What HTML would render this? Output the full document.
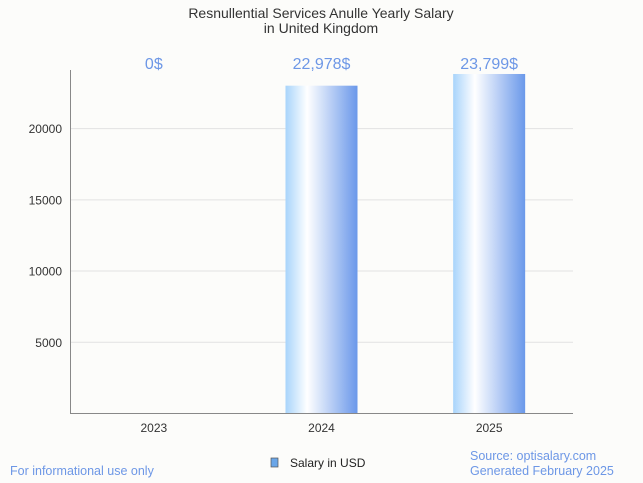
<!DOCTYPE html>
<html><head><meta charset="utf-8"><style>
body{margin:0;background:#fcfcfa;font-family:"Liberation Sans",sans-serif;}
svg{display:block}
</style></head><body>
<svg width="643" height="483">
<defs><linearGradient id="g" x1="0" x2="1" y1="0" y2="0">
<stop offset="0" stop-color="#a8d4fb"/><stop offset="0.3" stop-color="#ffffff"/><stop offset="1" stop-color="#6a98ea"/></linearGradient></defs>
<rect width="643" height="483" fill="#fcfcfa"/>
<text x="321" y="18" text-anchor="middle" font-size="14" fill="#333">Resnullential Services Anulle Yearly Salary</text>
<text x="321" y="33" text-anchor="middle" font-size="14" fill="#333">in United Kingdom</text>
<g id="grid"></g><g id="bars"></g>
<line x1="70.5" y1="70" x2="70.5" y2="413.5" stroke="#888"/>
<line x1="70" y1="413.5" x2="573" y2="413.5" stroke="#888"/>
<rect x="271" y="458" width="7" height="9" fill="#6aa6e8" stroke="#555" stroke-width="0.7"/>
<text x="290" y="467" font-size="12" fill="#222">Salary in USD</text>
<text x="10" y="475" font-size="12.5" fill="#6d97e6">For informational use only</text>
<text x="470" y="460" font-size="12.5" fill="#6d97e6">Source: optisalary.com</text>
<text x="470" y="475" font-size="12.5" fill="#6d97e6">Generated February 2025</text>
</svg>
<script>
const categories=["2023","2024","2025"];
const values=[0,22978,23799];
const labels=["0$","22,978$","23,799$"];
const ticks=[5000,10000,15000,20000];
const ns="http://www.w3.org/2000/svg";
const x0=70,x1=573,y0=413,k=0.014245;
const yScale=v=>y0-v*k;
const band=(x1-x0)/categories.length;
const xc=i=>x0+band*(i+0.5);
function mk(t,a,p){const e=document.createElementNS(ns,t);for(const n in a)e.setAttribute(n,a[n]);p.appendChild(e);return e;}
const grid=document.getElementById('grid'),bars=document.getElementById('bars');
ticks.forEach(t=>{
 const l=mk('line',{x1:x0,x2:x1,y1:yScale(t)+0.5,y2:yScale(t)+0.5,stroke:'#e2e2e2'},grid);
 
 
 const tx=mk('text',{x:62,y:yScale(t)+5,'text-anchor':'end','font-size':12,fill:'#333'},grid);
 tx.textContent=t;
 
 
});
categories.forEach((c,i)=>{
 const h=values[i]*k;
 if(h>0){const r=mk('rect',{x:xc(i)-36,y:yScale(values[i]),width:72,height:h,fill:'url(#g)'},bars);
 
 }
 const v=mk('text',{x:xc(i)-16*0.0,y:69,'text-anchor':'middle','font-size':16,fill:'#6d97e6'},bars);
 v.textContent=labels[i];
 
 
 const xt=mk('text',{x:xc(i),y:432,'text-anchor':'middle','font-size':12,fill:'#333'},bars);
 xt.textContent=c;
 
 
});
</script>
</body></html>
